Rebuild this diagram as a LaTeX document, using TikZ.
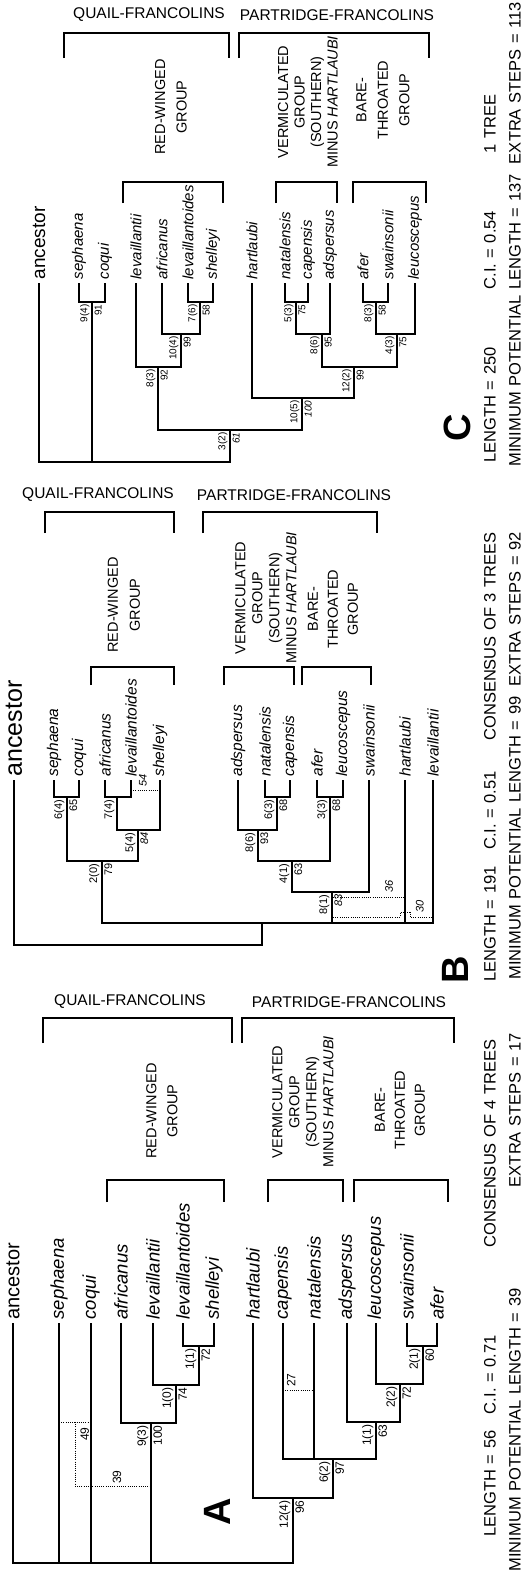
\documentclass[tikz,border=0pt]{standalone}
\usepackage{fontspec}
\setmainfont{Liberation Sans}
\begin{document}
\begin{tikzpicture}[x=1pt,y=-1pt,line width=1.1pt,
    taxon/.style={rotate=90,anchor=west,inner sep=3pt,font=\fontsize{#1}{#1}\selectfont\itshape},
    anc/.style={rotate=90,anchor=west,inner sep=3pt,font=\fontsize{#1}{#1}\selectfont},
    lft/.style={rotate=90,anchor=south east,inner sep=2pt,font=\fontsize{#1}{#1}\selectfont},
    rgt/.style={rotate=90,anchor=north east,inner sep=2pt,font=\fontsize{#1}{#1}\selectfont},
    rgti/.style={rgt=#1,font=\fontsize{#1}{#1}\selectfont\itshape},
    dl/.style={rotate=90,inner sep=1.5pt,font=\fontsize{#1}{#1}\selectfont},
    dli/.style={dl=#1,font=\fontsize{#1}{#1}\selectfont\itshape},
    head/.style={inner sep=0pt,font=\fontsize{15.5}{18}\selectfont},
    grp/.style={rotate=90,align=center,inner sep=0pt,font=\fontsize{14.5}{#1}\selectfont},
    stat/.style={rotate=90,anchor=west,inner sep=0pt,align=left,text width=#1,font=\fontsize{16.5}{18}\selectfont},
    panel/.style={rotate=90,inner sep=0pt,font=\fontsize{38}{38}\selectfont\bfseries},
    altline/.style={line width=0.6pt,dash pattern=on 0.8pt off 1.4pt}]
  \fill [white] (0,0) rectangle (528,1574);
  \useasboundingbox (0,0) rectangle (528,1574);

  % C
  \node (cQ) [head] at (149,15) {QUAIL-FRANCOLINS};
  \node (cP) [head] at (337,15) {PARTRIDGE-FRANCOLINS};
  \draw (64,58) |- (229,33) -- (229,58);
  \draw (239,58) |- (429,33) -- (429,58);
  \node (cRW) [grp=21.5] at (171,107) {RED-WINGED\\GROUP};
  \node (cVG) [grp=16.5] at (308,102) {VERMICULATED\\GROUP\\(SOUTHERN)\\MINUS \textit{HARTLAUBI}};
  \node (cBT) [grp=21.5] at (383,100) {BARE-\\THROATED\\GROUP};
  \draw (123,203) |- (223,182) -- (223,203);
  \draw (276,203) |- (337,182) -- (337,203);
  \draw (353,203) |- (426,182) -- (426,203);

  \node (canc) [anc=19] at (39,283) {ancestor};
  \node (csep) [taxon=15] at (79,283) {sephaena};
  \node (ccoq) [taxon=15] at (105,283) {coqui};
  \node (clev) [taxon=15] at (136,283) {levaillantii};
  \node (cafr) [taxon=15] at (162,283) {africanus};
  \node (clvd) [taxon=15] at (188,283) {levaillantoides};
  \node (cshe) [taxon=15] at (213,283) {shelleyi};
  \node (char) [taxon=15] at (252,283) {hartlaubi};
  \node (cnat) [taxon=15] at (285,283) {natalensis};
  \node (ccap) [taxon=15] at (308,283) {capensis};
  \node (cads) [taxon=15] at (330,283) {adspersus};
  \node (cafe) [taxon=15] at (363,283) {afer};
  \node (cswa) [taxon=15] at (388,283) {swainsonii};
  \node (cleu) [taxon=15] at (415,283) {leucoscepus};

  \coordinate (c1) at (92,302);
  \coordinate (c2) at (200,302);
  \coordinate (c3) at (181,334);
  \coordinate (c4) at (158,367);
  \coordinate (c5) at (296,302);
  \coordinate (c6) at (322,334);
  \coordinate (c7) at (376,302);
  \coordinate (c8) at (397,334);
  \coordinate (c9) at (354,367);
  \coordinate (c10) at (302,398);
  \coordinate (c11) at (230,430);
  \coordinate (c0) at (39,462);
  \draw (csep.west) |- (c1) -| (ccoq.west);
  \draw (clvd.west) |- (c2) -| (cshe.west);
  \draw (cafr.west) |- (c3) -| (c2);
  \draw (clev.west) |- (c4) -| (c3);
  \draw (cnat.west) |- (c5) -| (ccap.west);
  \draw (c5) |- (c6) -| (cads.west);
  \draw (cafe.west) |- (c7) -| (cswa.west);
  \draw (c7) |- (c8) -| (cleu.west);
  \draw (c6) |- (c9) -| (c8);
  \draw (char.west) |- (c10) -| (c9);
  \draw (c4) |- (c11) -| (c10);
  \draw (canc.west) -- (c0) -| (c11);
  \draw (c1) -- (c1 |- c0);
  \node (c1a) [lft=10] at (c1) {9(4)};   \node (c1b) [rgt=10] at (c1) {91};
  \node (c2a) [lft=10] at (c2) {7(6)};   \node (c2b) [rgt=10] at (c2) {58};
  \node (c3a) [lft=10] at (c3) {10(4)};  \node (c3b) [rgt=10] at (c3) {99};
  \node (c4a) [lft=10] at (c4) {8(3)};   \node (c4b) [rgt=10] at (c4) {92};
  \node (c5a) [lft=10] at (c5) {5(3)};   \node (c5b) [rgt=10] at (c5) {75};
  \node (c6a) [lft=10] at (c6) {8(6)};   \node (c6b) [rgt=10] at (c6) {95};
  \node (c7a) [lft=10] at (c7) {8(3)};   \node (c7b) [rgt=10] at (c7) {58};
  \node (c8a) [lft=10] at (c8) {4(3)};   \node (c8b) [rgt=10] at (c8) {75};
  \node (c9a) [lft=10] at (c9) {12(2)};  \node (c9b) [rgt=10] at (c9) {99};
  \node (c10a) [lft=10] at (c10) {10(5)}; \node (c10b) [rgti=10] at (c10) {100};
  \node (c11a) [lft=10] at (c11) {3(2)};  \node (c11b) [rgti=10] at (c11) {61};

  \node (cPanel) [panel] at (457,428) {C};
  \node (cS1) [stat=368pt] at (490,463) {LENGTH = 250\hfill C.I. = 0.54\hfill 1 TREE};
  \node (cS2) [stat=464pt] at (515,467) {MINIMUM POTENTIAL LENGTH = 137\hfill EXTRA STEPS = 113};

  % B
  \node (bQ) [head] at (98,495) {QUAIL-FRANCOLINS};
  \node (bP) [head] at (294,495) {PARTRIDGE-FRANCOLINS};
  \draw (45,533) |- (174,512) -- (174,533);
  \draw (203,533) |- (377,512) -- (377,533);
  \node (bRW) [grp=22] at (124,605) {RED-WINGED\\GROUP};
  \node (bVG) [grp=17] at (266,598) {VERMICULATED\\GROUP\\(SOUTHERN)\\MINUS \textit{HARTLAUBI}};
  \node (bBT) [grp=20] at (333,609) {BARE-\\THROATED\\GROUP};
  \draw (91,685) |- (174,667) -- (174,685);
  \draw (224,685) |- (294,667) -- (294,685);
  \draw (302,685) |- (371,667) -- (371,685);

  \node (banc) [anc=25] at (14,780) {ancestor};
  \node (bsep) [taxon=15.5] at (54,780) {sephaena};
  \node (bcoq) [taxon=15.5] at (79,780) {coqui};
  \node (bafr) [taxon=15.5] at (105,780) {africanus};
  \node (blvd) [taxon=15.5] at (131,780) {levaillantoides};
  \node (bshe) [taxon=15.5] at (160,780) {shelleyi};
  \node (bads) [taxon=15.5] at (238,780) {adspersus};
  \node (bnat) [taxon=15.5] at (265,780) {natalensis};
  \node (bcap) [taxon=15.5] at (290,780) {capensis};
  \node (bafe) [taxon=15.5] at (317,780) {afer};
  \node (bleu) [taxon=15.5] at (343,780) {leucoscepus};
  \node (bswa) [taxon=15.5] at (369,780) {swainsonii};
  \node (bhar) [taxon=15.5] at (405,780) {hartlaubi};
  \node (blev) [taxon=15.5] at (433,780) {levaillantii};

  \coordinate (b1) at (67,797);
  \coordinate (b2) at (117,797);
  \coordinate (b3) at (138,830);
  \coordinate (b4) at (102,861);
  \coordinate (b5) at (277,797);
  \coordinate (b6) at (258,830);
  \coordinate (b7) at (330,797);
  \coordinate (b8) at (292,861);
  \coordinate (b9) at (332,892);
  \coordinate (b10) at (262,923);
  \coordinate (b0) at (14,945);
  \draw (bsep.west) |- (b1) -| (bcoq.west);
  \draw (bafr.west) |- (b2) -| (blvd.west);
  \draw (b2) |- (b3) -| (bshe.west);
  \draw (b1) |- (b4) -| (b3);
  \draw (bnat.west) |- (b5) -| (bcap.west);
  \draw (bads.west) |- (b6) -| (b5);
  \draw (bafe.west) |- (b7) -| (bleu.west);
  \draw (b6) |- (b8) -| (b7);
  \draw (b8) |- (b9) -| (bswa.west);
  \draw (b4) |- (b10) -| (blev.west);
  \draw (b9) -- (b9 |- b10);
  \draw (bhar.west) -- (bhar.west |- b10);
  \draw (banc.west) -- (b0) -| (b10);
  \node (b1a) [lft=11] at (b1) {6(4)};  \node (b1b) [rgt=11] at (b1) {65};
  \node (b2a) [lft=11] at (b2) {7(4)};
  \node (b3a) [lft=11] at (b3) {5(4)};  \node (b3b) [rgti=11] at (b3) {84};
  \node (b4a) [lft=11] at (b4) {2(0)};  \node (b4b) [rgt=11] at (b4) {79};
  \node (b5a) [lft=11] at (b5) {6(3)};  \node (b5b) [rgt=11] at (b5) {68};
  \node (b6a) [lft=11] at (b6) {8(6)};  \node (b6b) [rgt=11] at (b6) {93};
  \node (b7a) [lft=11] at (b7) {3(3)};  \node (b7b) [rgt=11] at (b7) {68};
  \node (b8a) [lft=11] at (b8) {4(1)};  \node (b8b) [rgt=11] at (b8) {63};
  \node (b9a) [lft=11] at (b9) {8(1)};  \node (b9b) [rgti=11] at (b9) {83};

  \coordinate (bd1) at (131,790);
  \coordinate (bd2) at (160,790);
  \draw [altline] (bd1) -- (bd2);
  \node (b54) [dli=11,anchor=north west] at (137,789) {54};
  \coordinate (bd3) at (333,897);
  \coordinate (bd4) at (405,897);
  \draw [altline] (bd3) -- (bd4);
  \node (b36) [dli=11,anchor=south west] at (395,895) {36};
  \coordinate (bd5) at (333,917);
  \coordinate (bd6) at (433,917);
  \draw [altline] (bd5) -- (400,917) -- (400,912) -- (410,912) -- (410,917) -- (bd6);
  \node (b30) [dli=11,anchor=north west] at (414,915) {30};

  \node (bPanel) [panel] at (455,970) {B};
  \node (bS1) [stat=449pt] at (490,982) {LENGTH = 191\quad C.I. = 0.51\hfill CONSENSUS OF 3 TREES};
  \node (bS2) [stat=447pt] at (515,980) {MINIMUM POTENTIAL LENGTH = 99\hfill EXTRA STEPS = 92};

  % A
  \node (aQ) [head] at (130,1002) {QUAIL-FRANCOLINS};
  \node (aP) [head] at (349,1002) {PARTRIDGE-FRANCOLINS};
  \draw (43,1043) |- (232,1018) -- (232,1043);
  \draw (242,1043) |- (454,1018) -- (454,1043);
  \node (aRW) [grp=21] at (162,1111) {RED-WINGED\\GROUP};
  \node (aVG) [grp=17] at (303,1102) {VERMICULATED\\GROUP\\(SOUTHERN)\\MINUS \textit{HARTLAUBI}};
  \node (aBT) [grp=20] at (400,1110) {BARE-\\THROATED\\GROUP};
  \draw (107,1202) |- (224,1180) -- (224,1202);
  \draw (268,1202) |- (343,1180) -- (343,1202);
  \draw (354,1202) |- (448,1180) -- (448,1202);

  \node (aanc) [anc=20] at (13,1323) {ancestor};
  \node (asep) [taxon=18.5] at (59,1323) {sephaena};
  \node (acoq) [taxon=18.5] at (91,1323) {coqui};
  \node (aafr) [taxon=18.5] at (121,1323) {africanus};
  \node (alev) [taxon=18.5] at (153,1323) {levaillantii};
  \node (alvd) [taxon=18.5] at (183,1323) {levaillantoides};
  \node (ashe) [taxon=18.5] at (214,1323) {shelleyi};
  \node (ahar) [taxon=18.5] at (253,1323) {hartlaubi};
  \node (acap) [taxon=18.5] at (283,1323) {capensis};
  \node (anat) [taxon=18.5] at (314,1323) {natalensis};
  \node (aads) [taxon=18.5] at (347,1323) {adspersus};
  \node (aleu) [taxon=18.5] at (376,1323) {leucoscepus};
  \node (aswa) [taxon=18.5] at (407,1323) {swainsonii};
  \node (aafe) [taxon=18.5] at (437,1323) {afer};

  \coordinate (a1) at (199,1346);
  \coordinate (a2) at (176,1385);
  \coordinate (a3) at (151,1423);
  \coordinate (a4) at (423,1346);
  \coordinate (a5) at (400,1384);
  \coordinate (a6) at (376,1422);
  \coordinate (a7) at (333,1459);
  \coordinate (a8) at (293,1498);
  \coordinate (a0) at (13,1563);
  \draw (alvd.west) |- (a1) -| (ashe.west);
  \draw (alev.west) |- (a2) -| (a1);
  \draw (aafr.west) |- (a3) -| (a2);
  \draw (aswa.west) |- (a4) -| (aafe.west);
  \draw (aleu.west) |- (a5) -| (a4);
  \draw (aads.west) |- (a6) -| (a5);
  \draw (acap.west) |- (a7) -| (a6);
  \draw (anat.west) -- (anat.west |- a7);
  \draw (ahar.west) |- (a8) -| (a7);
  \draw (aanc.west) -- (a0) -| (a8);
  \draw (asep.west) -- (asep.west |- a0);
  \draw (acoq.west) -- (acoq.west |- a0);
  \draw (a3) -- (a3 |- a0);
  \node (a1a) [lft=12] at (a1) {1(1)};  \node (a1b) [rgt=12] at (a1) {72};
  \node (a2a) [lft=12] at (a2) {1(0)};  \node (a2b) [rgt=12] at (a2) {74};
  \node (a3a) [lft=12] at (a3) {9(3)};  \node (a3b) [rgt=12] at (a3) {100};
  \node (a4a) [lft=12] at (a4) {2(1)};  \node (a4b) [rgt=12] at (a4) {60};
  \node (a5a) [lft=12] at (a5) {2(2)};  \node (a5b) [rgt=12] at (a5) {72};
  \node (a6a) [lft=12] at (a6) {1(1)};  \node (a6b) [rgt=12] at (a6) {63};
  \node (a7a) [lft=12] at (a7) {6(2)};  \node (a7b) [rgt=12] at (a7) {97};
  \node (a8a) [lft=12] at (a8) {12(4)}; \node (a8b) [rgt=12] at (a8) {96};

  \coordinate (ad1) at (75,1422);
  \coordinate (ad2) at (75,1486);
  \draw [altline] (asep.west |- ad1) -- (acoq.west |- ad1);
  \draw [altline] (ad1) -- (ad2) -- (ad2 -| a3);
  \node (a49) [rgt=12] at (78,1425) {49};
  \node (a39) [dl=12,anchor=west] at (117,1486) {39};
  \coordinate (ad3) at (283,1390);
  \draw [altline] (ad3) -- (anat.west |- ad3);
  \node (a27) [dl=12,anchor=north west] at (285,1389) {27};

  \node (aPanel) [panel] at (217,1512) {A};
  \node (aS1) [stat=497pt] at (490,1537) {LENGTH = 56\quad C.I. = 0.71\hfill CONSENSUS OF 4 TREES};
  \node (aS2) [stat=538pt] at (515,1572) {MINIMUM POTENTIAL LENGTH = 39\hfill EXTRA STEPS = 17};
\end{tikzpicture}
\end{document}
